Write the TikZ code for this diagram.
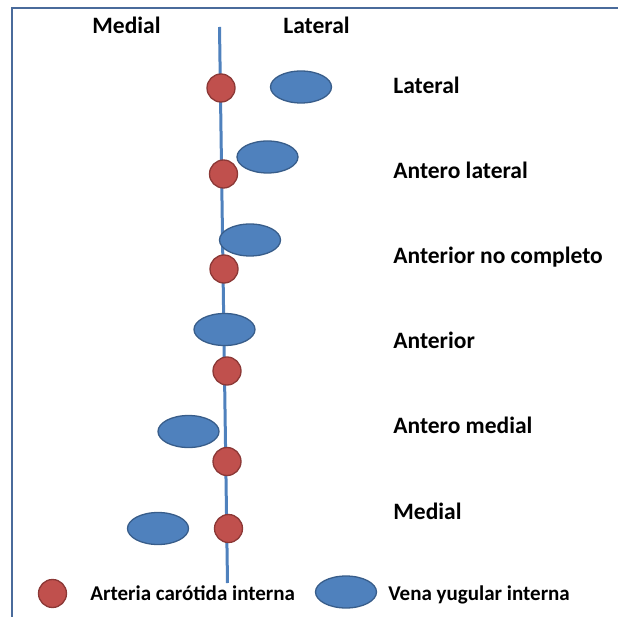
\documentclass[tikz,border=0pt]{standalone}
\usepackage{fontspec}
\setmainfont{Carlito}
\usepackage{xcolor}
\usetikzlibrary{positioning, shapes.geometric}
\definecolor{arteryred}{HTML}{C0504D}
\definecolor{arteryedge}{HTML}{8C3836}
\definecolor{veinblue}{HTML}{4F81BD}
\definecolor{veinedge}{HTML}{385D8A}
\definecolor{framecol}{HTML}{4A6B9B}

\begin{document}
\begin{tikzpicture}[x=1pt, y=-1pt, thick]
		
		% Define styles
		\tikzstyle{artery} = [circle, draw=arteryedge, line width=1.3pt, fill=arteryred, minimum size=28pt, inner sep=0pt]
		\tikzstyle{vein} = [ellipse, draw=veinedge, line width=1.3pt, fill=veinblue, minimum width=61pt, minimum height=32pt, inner sep=0pt]
		\tikzstyle{poslabel} = [font=\fontsize{23.5}{27}\selectfont\bfseries, anchor=base west, inner sep=0pt]
		\tikzstyle{legendtext} = [font=\fontsize{21}{25}\selectfont\bfseries, anchor=base west, inner sep=0pt]
		
		\useasboundingbox (0,0) rectangle (618,617);
		
		% Frame
		\draw[framecol, line width=2pt] (618,8) -- (12,8) -- (12,617);
		
		% Midline
		\coordinate (top) at (219.5,27);
		\coordinate (bottom) at (227.5,583);
		\draw[veinblue, line width=3pt] (top) -- (bottom);
		
		% Sides
		\node[poslabel] (medialside) at (92,34) {Medial};
		\node[poslabel] (lateralside) at (283,34) {Lateral};
		
		% Lateral
		\node[artery] (art1) at (221,88) {};
		\node[vein] (vein1) at (301,87) {};
		\node[poslabel] (lab1) at (393,93.5) {Lateral};
		
		% Antero lateral
		\node[vein] (vein2) at (267.5,157) {};
		\node[artery] (art2) at (223.5,174) {};
		\node[poslabel] (lab2) at (393,178.5) {Antero lateral};
		
		% Anterior no completo
		\node[vein] (vein3) at (250,240) {};
		\node[artery] (art3) at (224,269) {};
		\node[poslabel] (lab3) at (393,263.5) {Anterior no completo};
		
		% Anterior
		\node[vein] (vein4) at (224.5,329.5) {};
		\node[artery] (art4) at (227,371) {};
		\node[poslabel] (lab4) at (393,348.5) {Anterior};
		
		% Antero medial
		\node[vein] (vein5) at (188.5,431.5) {};
		\node[artery] (art5) at (227,461.5) {};
		\node[poslabel] (lab5) at (393,433.5) {Antero medial};
		
		% Medial
		\node[vein] (vein6) at (158,528.5) {};
		\node[artery] (art6) at (228.5,528.5) {};
		\node[poslabel] (lab6) at (393,519.5) {Medial};
		
		% Legend
		\node[artery] (legartery) at (52.5,593.5) {};
		\node[legendtext] (legarterytext) at (90,600) {Arteria carótida interna};
		\node[vein] (legvein) at (346,592) {};
		\node[legendtext] (legveintext) at (388,600) {Vena yugular interna};
		
	\end{tikzpicture}
\end{document}
